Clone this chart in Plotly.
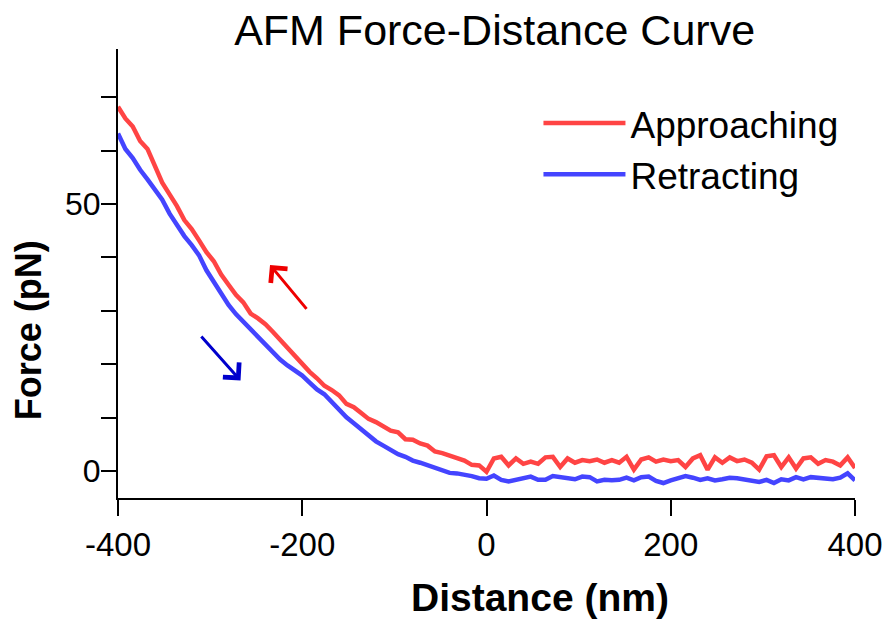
import plotly.graph_objects as go

distance_nm = [
    -400, -392, -384, -376, -368, -360, -352, -344, -336, -328,
    -320, -312, -304, -296, -288, -280, -272, -264, -256, -248,
    -240, -232, -224, -216, -208, -200, -192, -184, -176, -168,
    -160, -152, -144, -136, -128, -120, -112, -104, -96, -88,
    -80, -72, -64, -56, -48, -40, -32, -24, -16, -8,
    0, 8, 16, 24, 32, 40, 48, 56, 64, 72,
    80, 88, 96, 104, 112, 120, 128, 136, 144, 152,
    160, 168, 176, 184, 192, 200, 208, 216, 224, 232,
    240, 248, 256, 264, 272, 280, 288, 296, 304, 312,
    320, 328, 336, 344, 352, 360, 368, 376, 384, 392,
    400,
]

approaching_pN = [
    68.2, 66.0, 64.5, 61.8, 60.3, 57.0, 54.0, 51.8, 49.6, 47.0,
    45.3, 43.2, 41.0, 39.3, 36.8, 34.9, 33.0, 31.6, 29.5, 28.6,
    27.5, 26.1, 24.6, 22.9, 21.3, 19.9, 18.6, 17.4, 16.0, 15.2,
    14.2, 12.6, 12.0, 10.9, 9.8, 9.2, 8.4, 7.6, 7.3, 6.0,
    5.9, 5.2, 4.8, 3.7, 3.4, 2.9, 2.3, 2.0, 1.2, 1.1,
    -0.1, 2.4, 2.7, 1.1, 2.4, 1.4, 1.8, 1.4, 2.6, 2.7,
    0.8, 2.4, 1.6, 2.1, 1.9, 2.2, 1.6, 2.1, 1.6, 2.7,
    0.3, 2.2, 2.6, 1.8, 2.2, 1.9, 2.1, 0.8, 2.4, 3.0,
    0.3, 2.6, 1.6, 2.6, 1.9, 2.2, 1.6, 0.3, 2.8, 3.0,
    0.8, 2.6, 0.5, 2.4, 2.6, 1.4, 2.1, 1.8, 1.1, 2.6,
    0.6,
]

retracting_pN = [
    63.2, 60.3, 58.6, 56.4, 54.6, 52.6, 50.8, 48.2, 45.9, 44.0,
    42.3, 40.4, 37.6, 35.3, 33.2, 31.1, 29.4, 28.0, 26.6, 25.0,
    23.6, 22.2, 20.9, 19.8, 18.8, 17.9, 16.6, 15.3, 14.4, 13.0,
    11.5, 10.1, 9.0, 7.8, 6.6, 5.6, 4.8, 4.0, 3.2, 2.7,
    2.0, 1.6, 1.1, 0.5, 0.2, -0.3, -0.4, -0.6, -0.9, -1.3,
    -1.4, -0.8, -1.6, -1.9, -1.6, -1.5, -1.0, -1.6, -1.6, -0.9,
    -1.1, -1.4, -1.5, -1.0, -1.1, -1.9, -1.6, -1.7, -1.6, -1.2,
    -1.7, -1.1, -1.0, -1.8, -2.2, -1.7, -1.2, -0.9, -1.2, -1.6,
    -1.3, -1.7, -1.5, -1.2, -1.3, -1.6, -1.7, -2.0, -1.6, -2.2,
    -1.5, -1.7, -1.1, -1.5, -1.1, -1.3, -1.4, -1.5, -1.2, -0.4,
    -1.7,
]

x_ticks = [-400, -200, 0, 200, 400]
y_ticks = [0, 50]

FONT = "Liberation Sans, Arial, sans-serif"
RED = "#ff4444"
BLUE = "#4444ff"

fig = go.Figure()
fig.add_trace(go.Scatter(x=distance_nm, y=approaching_pN, mode="lines",
                         name="Approaching", line=dict(color=RED, width=4.5)))
fig.add_trace(go.Scatter(x=distance_nm, y=retracting_pN, mode="lines",
                         name="Retracting", line=dict(color=BLUE, width=4.5)))

fig.update_layout(
    width=888, height=622,
    margin=dict(l=118, r=33, t=49, b=124, autoexpand=False),
    paper_bgcolor="white", plot_bgcolor="white",
    font=dict(family=FONT, color="black"),
    title=dict(text="AFM Force-Distance Curve", x=0.557, xref="container",
               xanchor="center", y=0.952, yref="container", yanchor="middle",
               font=dict(family=FONT, size=43, color="black")),
    showlegend=True,
    legend=dict(x=0.5705, y=0.903, xanchor="left", yanchor="top",
                bgcolor="rgba(0,0,0,0)", itemwidth=82,
                font=dict(family=FONT, size=37, color="black")),
)

fig.update_xaxes(range=[-400, 400], tickvals=x_ticks, ticktext=[str(v) for v in x_ticks],
                 automargin=False,
                 showline=True, linecolor="black", linewidth=2, mirror=False,
                 ticks="outside", ticklen=16, tickwidth=2, tickcolor="black",
                 showgrid=False, zeroline=False,
                 tickfont=dict(family=FONT, size=33, color="black"))
fig.update_yaxes(range=[-5, 79], tickvals=y_ticks, ticktext=[str(v) for v in y_ticks],
                 automargin=False,
                 showline=True, linecolor="black", linewidth=2, mirror=False,
                 ticks="outside", ticklen=15, tickwidth=2, tickcolor="black",
                 ticklabelstandoff=-6,
                 minor=dict(dtick=10, tick0=0, ticks="outside", ticklen=15,
                            tickwidth=2, tickcolor="black", showgrid=False),
                 showgrid=False, zeroline=False,
                 tickfont=dict(family=FONT, size=32, color="black"))

# axis titles
fig.add_annotation(text="<b>Distance (nm)</b>", xref="paper", yref="paper",
                   x=0.572, y=-0.2227, xanchor="center", yanchor="middle",
                   showarrow=False, font=dict(family=FONT, size=39, color="black"))
fig.add_annotation(text="<b>Force (pN)</b>", xref="paper", yref="paper",
                   x=-0.122, y=0.374, xanchor="center", yanchor="middle",
                   textangle=-90, showarrow=False,
                   font=dict(family=FONT, size=36, color="black"))

# direction arrows
fig.add_annotation(x=-235, y=38.6, ax=-194, ay=30.1, xref="x", yref="y",
                   axref="x", ayref="y", text="", showarrow=True,
                   arrowhead=4, arrowsize=1.4, arrowwidth=3, arrowcolor="#ee0000")
fig.add_annotation(x=-267, y=17.0, ax=-311, ay=25.5, xref="x", yref="y",
                   axref="x", ayref="y", text="", showarrow=True,
                   arrowhead=4, arrowsize=1.4, arrowwidth=3, arrowcolor="#0000cc")

fig.write_html("out.html")
